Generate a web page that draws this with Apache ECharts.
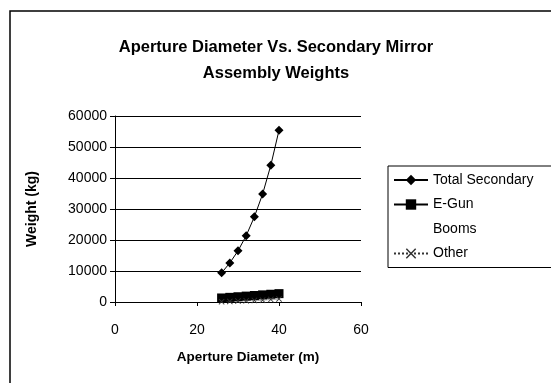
<!DOCTYPE html>
<html><head><meta charset="utf-8">
<script src="https://cdn.jsdelivr.net/npm/echarts@6/dist/echarts.min.js"></script>
<style>html,body{margin:0;padding:0;background:#fff}#c{width:551px;height:383px}</style>
</head><body><div id="c"></div>
<script>
const diameters = [26, 28, 30, 32, 34, 36, 38, 40];
const totalSecondary = [9400, 12600, 16500, 21400, 27500, 34800, 44100, 55400];
const eGun = [1300, 1500, 1700, 1900, 2100, 2300, 2500, 2700];
const booms = [0, 0, 0, 0, 0, 0, 0, 0];
const other = [100, 200, 300, 400, 500, 600, 800, 1000];
const seriesNames = ['Total Secondary', 'E-Gun', 'Booms', 'Other'];
const xTicks = [0, 20, 40, 60];
const yTicks = [0, 10000, 20000, 30000, 40000, 50000, 60000];

const font = 'Arial, "Liberation Sans", sans-serif';
const pairs = arr => diameters.map((d, i) => [d, arr[i]]);
const xPath = 'path://M0,1L1,0L5,4L9,0L10,1L6,5L10,9L9,10L5,6L1,10L0,9L4,5Z';

const chart = echarts.init(document.getElementById('c'), null, {renderer: 'canvas'});
chart.setOption({
  animation: false,
  backgroundColor: '#fff',
  textStyle: {fontFamily: font, color: '#000'},
  graphic: [{
    type: 'rect', shape: {x: 10, y: 11, width: 600, height: 420},
    style: {fill: null, stroke: '#000', lineWidth: 1.5}, silent: true, z: -1
  }],
  title: {
    text: 'Aperture Diameter Vs. Secondary Mirror\nAssembly Weights',
    left: 271, top: 29, textAlign: 'center',
    textStyle: {fontSize: 16.5, fontWeight: 'bold', color: '#000', fontFamily: font, lineHeight: 26}
  },
  legend: {
    orient: 'vertical', left: 388, top: 166,
    padding: [7, 80, 7, 5], itemGap: 10.5, itemWidth: 34, itemHeight: 13,
    borderColor: '#000', borderWidth: 1,
    textStyle: {fontSize: 14, color: '#000', fontFamily: font},
    data: seriesNames
  },
  grid: {left: 115, top: 116, right: 190, bottom: 81},
  xAxis: {
    type: 'value', min: xTicks[0], max: xTicks[xTicks.length - 1], interval: 20,
    name: 'Aperture Diameter (m)', nameLocation: 'middle', nameGap: 48,
    nameTextStyle: {fontSize: 13.5, fontWeight: 'bold', color: '#000', fontFamily: font, padding: [0, 0, 0, 20]},
    axisLine: {lineStyle: {color: '#000', width: 1}},
    axisTick: {show: true, inside: false, length: 4, lineStyle: {color: '#000'}},
    axisLabel: {fontSize: 14, color: '#000', margin: 21, fontFamily: font},
    splitLine: {show: false}
  },
  yAxis: {
    type: 'value', min: yTicks[0], max: yTicks[yTicks.length - 1], interval: 10000,
    name: 'Weight (kg)', nameLocation: 'middle', nameGap: 76, nameRotate: 90,
    nameTextStyle: {fontSize: 14, fontWeight: 'bold', color: '#000', fontFamily: font},
    axisLine: {show: true, lineStyle: {color: '#000', width: 1}},
    axisTick: {show: true, inside: false, length: 5, lineStyle: {color: '#000'}},
    axisLabel: {fontSize: 14, color: '#000', margin: 8, fontFamily: font, formatter: v => String(v)},
    splitLine: {show: true, lineStyle: {color: '#000', width: 1}}
  },
  series: [
    {name: seriesNames[0], type: 'line', data: pairs(totalSecondary),
     symbol: 'diamond', symbolSize: 9, color: '#000',
     lineStyle: {color: '#000', width: 1}, itemStyle: {color: '#000'}},
    {name: seriesNames[1], type: 'line', data: pairs(eGun),
     symbol: 'rect', symbolSize: 9, color: '#000',
     lineStyle: {color: '#000', width: 3}, itemStyle: {color: '#000'}},
    {name: seriesNames[2], type: 'line', data: pairs(booms),
     symbol: 'none', color: 'rgba(0,0,0,0)',
     lineStyle: {color: 'rgba(0,0,0,0)', width: 0}, itemStyle: {color: 'rgba(0,0,0,0)'}},
    {name: seriesNames[3], type: 'line', data: pairs(other),
     symbol: xPath, symbolSize: 6, color: '#333',
     lineStyle: {color: '#333', width: 1, type: 'dotted'}, itemStyle: {color: '#333'}}
  ]
});
</script></body></html>
